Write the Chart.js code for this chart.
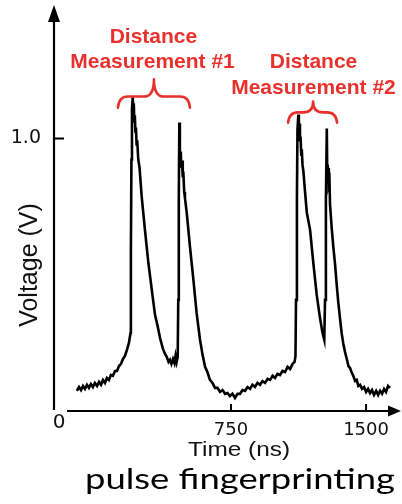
<!DOCTYPE html>
<html>
<head>
<meta charset="utf-8">
<script src="https://cdn.jsdelivr.net/npm/chart.js@4.4.1/dist/chart.umd.min.js"></script>
<style>
  html, body { margin: 0; padding: 0; background: #ffffff; }
  canvas { display: block; }
</style>
</head>
<body>
<canvas id="chart" width="402" height="504"></canvas>
<script>
// ---- data ----
const timeNs = [
  -106, -94, -83, -72, -61, -50, -39, -28, -17, -6, 6, 17, 28, 39, 50, 61, 72, 83, 94, 106,
  117, 128, 139, 150, 161, 172, 183, 192,
  194, 197, 200, 204, 207, 210, 213, 216, 219, 222, 226, 229, 235, 242, 254, 272, 291, 303, 315, 328,
  341, 356, 372, 383, 393, 403, 411, 419, 428, 436, 442, 448, 454,
  457, 460, 463, 466, 468, 471, 474, 478, 482, 485, 490, 494, 504, 522, 541, 559, 568, 578, 592, 606,
  619, 633, 647, 661, 675, 689, 703, 717, 731, 744, 758, 772, 786, 800, 814, 828, 842, 856, 869, 883,
  897, 911, 925, 939, 953, 967, 981, 994, 1008, 1022, 1036, 1050, 1064, 1078, 1092, 1103, 1108,
  1111, 1116, 1119, 1124, 1127, 1130, 1133, 1136, 1140, 1143, 1147, 1152, 1161, 1171, 1189, 1207, 1226, 1244, 1258, 1268,
  1272, 1277, 1282, 1284, 1287, 1290, 1293, 1297, 1300, 1309, 1318, 1328, 1337, 1346, 1356, 1365, 1374, 1383, 1393, 1402,
  1411, 1421, 1429, 1439, 1448, 1457, 1467, 1478, 1489, 1500, 1511, 1522, 1533, 1544, 1556, 1567, 1578, 1589, 1600, 1611,
  1622, 1633
];
const voltage = [
  0.074, 0.088, 0.077, 0.092, 0.081, 0.096, 0.085, 0.099, 0.088, 0.103, 0.092, 0.107, 0.096, 0.114, 0.103, 0.121, 0.114, 0.132, 0.129, 0.147,
  0.147, 0.165, 0.173, 0.191, 0.202, 0.224, 0.25, 0.287,
  0.592, 0.923, 1.107, 1.151, 1.114, 1.129, 1.063, 1.085, 1.026, 1.040, 0.974, 0.993, 0.923, 0.893, 0.787, 0.665, 0.544, 0.482, 0.419, 0.353,
  0.316, 0.268, 0.228, 0.210, 0.199, 0.180, 0.188, 0.173, 0.191, 0.176, 0.202, 0.180, 0.199,
  0.408, 0.776, 1.059, 0.960, 0.923, 0.952, 0.893, 0.919, 0.857, 0.879, 0.805, 0.783, 0.728, 0.603, 0.482, 0.360, 0.313, 0.261, 0.206, 0.162,
  0.143, 0.114, 0.103, 0.085, 0.085, 0.070, 0.077, 0.063, 0.066, 0.055, 0.063, 0.048, 0.063, 0.063, 0.077, 0.074, 0.088, 0.081, 0.096, 0.088,
  0.103, 0.096, 0.110, 0.103, 0.118, 0.114, 0.129, 0.121, 0.136, 0.132, 0.147, 0.143, 0.162, 0.154, 0.173, 0.180, 0.202,
  0.408, 0.776, 1.033, 1.088, 1.040, 1.055, 0.989, 1.007, 0.941, 0.960, 0.904, 0.879, 0.805, 0.728, 0.665, 0.544, 0.426, 0.342, 0.287, 0.261,
  0.408, 0.776, 1.037, 0.904, 0.879, 0.893, 0.831, 0.842, 0.757, 0.673, 0.603, 0.537, 0.463, 0.397, 0.335, 0.283, 0.246, 0.217, 0.191, 0.165,
  0.158, 0.140, 0.129, 0.110, 0.114, 0.092, 0.096, 0.081, 0.088, 0.070, 0.081, 0.066, 0.077, 0.059, 0.074, 0.059, 0.074, 0.063, 0.081, 0.070,
  0.092, 0.085
];
const xTickValues = [750, 1500];
const yTickValues = [1.0];
const xRange = [-233, 1694];
const yRange = [0, 1.49];
const xTitle = 'Time (ns)';
const yTitle = 'Voltage (V)';
const originLabel = '0';
const caption = 'pulse fingerprinting';
const annotationLines = ['Distance', 'Measurement #1', 'Distance', 'Measurement #2'];

// ---- annotation geometry (data units) ----
const annotationPos = [
  { x: 319, y: 1.349 }, { x: 314, y: 1.257 },
  { x: 1208, y: 1.257 }, { x: 1208, y: 1.165 }
];
const braces = [
  { x1: 122, x2: 522, xc: 322, yEnd: 1.113, yMid: 1.154, yTip: 1.217 },
  { x1: 1067, x2: 1339, xc: 1206, yEnd: 1.058, yMid: 1.096, yTip: 1.136 }
];

const RED = '#e8312d';
const INK = '#111111';

function drawStretched(ctx, text, cx, baseY, font, targetWidth) {
  ctx.font = font;
  const w = ctx.measureText(text).width;
  ctx.save();
  ctx.translate(cx, baseY);
  ctx.scale(targetWidth / w, 1);
  ctx.textAlign = 'center';
  ctx.textBaseline = 'alphabetic';
  ctx.fillText(text, 0, 0);
  ctx.restore();
}

const decor = {
  id: 'decor',
  afterDraw(chart) {
    const { ctx, chartArea: a, scales: { x, y } } = chart;
    ctx.save();
    ctx.strokeStyle = '#000';
    ctx.fillStyle = '#000';
    ctx.lineWidth = 2.2;
    ctx.lineCap = 'butt';
    // y axis with arrow
    ctx.beginPath();
    ctx.moveTo(a.left, a.bottom - 1);
    ctx.lineTo(a.left, a.top + 14);
    ctx.stroke();
    ctx.beginPath();
    ctx.moveTo(a.left, a.top);
    ctx.lineTo(a.left - 6, a.top + 17);
    ctx.lineTo(a.left + 6, a.top + 17);
    ctx.closePath();
    ctx.fill();
    // x axis with arrow
    ctx.beginPath();
    ctx.moveTo(a.left + 13, a.bottom);
    ctx.lineTo(a.right - 10, a.bottom);
    ctx.stroke();
    ctx.beginPath();
    ctx.moveTo(a.right, a.bottom);
    ctx.lineTo(a.right - 13, a.bottom - 5.5);
    ctx.lineTo(a.right - 13, a.bottom + 5.5);
    ctx.closePath();
    ctx.fill();
    // inward tick marks
    ctx.lineWidth = 2;
    y.ticks.forEach(t => {
      const py = y.getPixelForValue(t.value);
      ctx.beginPath(); ctx.moveTo(a.left, py); ctx.lineTo(a.left + 10, py); ctx.stroke();
    });
    x.ticks.forEach(t => {
      const px = x.getPixelForValue(t.value);
      ctx.beginPath(); ctx.moveTo(px, a.bottom); ctx.lineTo(px, a.bottom - 7); ctx.stroke();
    });
    // origin label
    ctx.fillStyle = INK;
    ctx.font = '20px "DejaVu Sans"';
    ctx.textAlign = 'center';
    ctx.textBaseline = 'middle';
    ctx.fillText(originLabel, a.left + 5, a.bottom + 12);
    // y title (rotated)
    ctx.save();
    ctx.translate(36.5, 265);
    ctx.rotate(-Math.PI / 2);
    ctx.font = '25px "Liberation Sans", Arial, sans-serif';
    ctx.textAlign = 'center';
    ctx.textBaseline = 'alphabetic';
    ctx.fillText(yTitle, 0, 0);
    ctx.restore();
    // x title
    drawStretched(ctx, xTitle, 239, 456, '20px "Liberation Sans", Arial, sans-serif', 102);
    // caption
    ctx.fillStyle = '#000';
    drawStretched(ctx, caption, 240, 489, '29px Lato, "Open Sans", sans-serif', 310);
    // braces
    ctx.strokeStyle = RED;
    ctx.lineWidth = 2.6;
    ctx.lineCap = 'round';
    ctx.lineJoin = 'round';
    braces.forEach(b => {
      const x1 = x.getPixelForValue(b.x1), x2 = x.getPixelForValue(b.x2), xc = x.getPixelForValue(b.xc);
      const ye = y.getPixelForValue(b.yEnd), ym = y.getPixelForValue(b.yMid), yt = y.getPixelForValue(b.yTip);
      const r = 10;
      ctx.beginPath();
      ctx.moveTo(x1, ye);
      ctx.quadraticCurveTo(x1 + 1, ym, x1 + r, ym);
      ctx.lineTo(xc - r, ym);
      ctx.quadraticCurveTo(xc, ym, xc, yt);
      ctx.moveTo(x2, ye);
      ctx.quadraticCurveTo(x2 - 1, ym, x2 - r, ym);
      ctx.lineTo(xc + r, ym);
      ctx.quadraticCurveTo(xc, ym, xc, yt);
      ctx.stroke();
    });
    // red annotation text
    ctx.fillStyle = RED;
    ctx.font = 'bold 21px "Liberation Sans", Arial, sans-serif';
    ctx.textAlign = 'center';
    ctx.textBaseline = 'alphabetic';
    annotationLines.forEach((txt, i) => {
      ctx.fillText(txt, x.getPixelForValue(annotationPos[i].x), y.getPixelForValue(annotationPos[i].y));
    });
    ctx.restore();
  }
};

const points = timeNs.map((t, i) => ({ x: t, y: voltage[i] }));

new Chart(document.getElementById('chart'), {
  type: 'line',
  data: {
    datasets: [{
      label: 'Voltage',
      data: points,
      borderColor: '#000000',
      borderWidth: 2.6,
      borderJoinStyle: 'miter',
      pointRadius: 0,
      tension: 0,
      fill: false
    }]
  },
  options: {
    responsive: false,
    animation: false,
    devicePixelRatio: 1,
    layout: { padding: { top: 5, right: 1, left: 0, bottom: 0 } },
    plugins: { legend: { display: false }, tooltip: { enabled: false }, title: { display: false } },
    scales: {
      x: {
        type: 'linear',
        min: xRange[0],
        max: xRange[1],
        grid: { display: false },
        border: { display: false },
        afterBuildTicks: s => { s.ticks = xTickValues.map(v => ({ value: v })); },
        afterFit: s => { s.height = 93; s.paddingLeft = 0; s.paddingRight = 0; },
        ticks: {
          padding: 1,
          color: INK,
          font: { family: '"DejaVu Sans"', size: 18 },
          maxRotation: 0,
          callback: v => String(v)
        }
      },
      y: {
        type: 'linear',
        min: yRange[0],
        max: yRange[1],
        grid: { display: false },
        border: { display: false },
        afterBuildTicks: s => { s.ticks = yTickValues.map(v => ({ value: v })); },
        afterFit: s => { s.width = 54; s.paddingTop = 0; s.paddingBottom = 0; },
        ticks: {
          padding: 5,
          color: INK,
          font: { family: '"DejaVu Sans"', size: 19 },
          callback: v => Number(v).toFixed(1)
        }
      }
    }
  },
  plugins: [decor]
});
</script>
</body>
</html>
